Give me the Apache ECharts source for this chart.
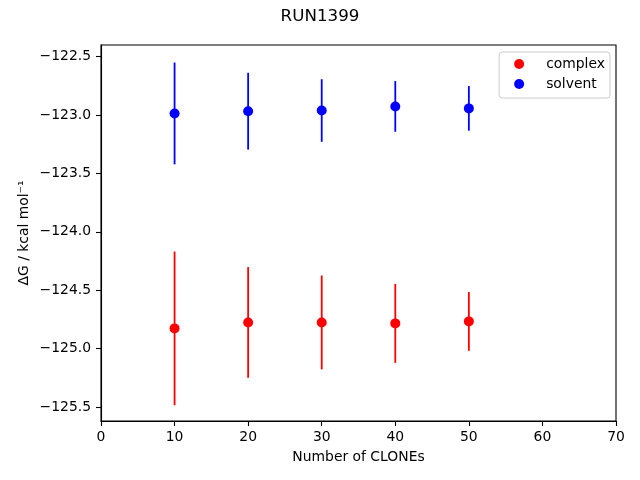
<!DOCTYPE html>
<html>
<head>
<meta charset="utf-8">
<script src="https://cdn.jsdelivr.net/npm/echarts@6/dist/echarts.min.js"></script>
<style>html,body{margin:0;padding:0;background:#fff}#c{width:640px;height:480px}</style>
</head>
<body>
<div id="c"></div>
<script>
const clones = [10, 20, 30, 40, 50];
const complexMean = [-124.827, -124.776, -124.776, -124.784, -124.767];
const complexErr = [0.658, 0.474, 0.402, 0.338, 0.252];
const solventMean = [-122.986, -122.967, -122.961, -122.926, -122.943];
const solventErr = [0.436, 0.329, 0.268, 0.217, 0.191];
const yTicks = [-125.5, -125.0, -124.5, -124.0, -123.5, -123.0, -122.5];
const xTicks = [0, 10, 20, 30, 40, 50, 60, 70];

const FONT = 'DejaVu Sans';
const fmt = v => (v < 0 ? '\u2212' : '') + Math.abs(v).toFixed(1);

function errSeries(name, means, errs, color) {
  return {
    name: name,
    type: 'custom',
    z: 2,
    silent: true,
    itemStyle: { color: color, opacity: 1 },
    data: clones.map((x, i) => [x, means[i], errs[i]]),
    renderItem: function (params, api) {
      const x = api.value(0), m = api.value(1), e = api.value(2);
      const p1 = api.coord([x, m - e]);
      const p2 = api.coord([x, m + e]);
      return {
        type: 'line',
        shape: { x1: p1[0], y1: p1[1], x2: p2[0], y2: p2[1] },
        style: { stroke: color, lineWidth: 1.8 }
      };
    }
  };
}

const chart = echarts.init(document.getElementById('c'), null, { renderer: 'canvas' });
chart.setOption({
  animation: false,
  backgroundColor: '#fff',
  title: {
    text: 'RUN1399',
    left: 'center',
    top: 8,
    padding: 0,
    textStyle: { fontFamily: FONT, fontSize: 16.7, fontWeight: 'normal', color: '#000' }
  },
  legend: {
    data: [
      { name: 'complex', itemStyle: { color: '#ff0000', opacity: 1 } },
      { name: 'solvent', itemStyle: { color: '#0000ff', opacity: 1 } }
    ],
    orient: 'vertical',
    right: 30,
    top: 52,
    padding: [4, 5, 6, 15],
    itemWidth: 10,
    itemHeight: 10,
    itemGap: 4,
    icon: 'circle',
    borderColor: '#cccccc',
    borderWidth: 1,
    borderRadius: 3,
    backgroundColor: 'rgba(255,255,255,0.8)',
    textStyle: { fontFamily: FONT, fontSize: 13.9, color: '#000', padding: [0, 0, 0, 17], lineHeight: 16 }
  },
  grid: {
    left: 101, right: 24, top: 45, bottom: 59,
    show: true, borderColor: '#000', borderWidth: 1.1, backgroundColor: 'transparent'
  },
  xAxis: {
    type: 'value',
    min: 0, max: 70, interval: 10,
    name: 'Number of CLONEs',
    nameLocation: 'middle',
    nameGap: 29,
    nameMoveOverlap: false,
    nameTextStyle: { fontFamily: FONT, fontSize: 13.9, color: '#000' },
    axisLine: { show: true, lineStyle: { color: '#000', width: 1.1 } },
    axisTick: { show: true, length: 5, lineStyle: { color: '#000', width: 1.1 } },
    axisLabel: { margin: 9, fontFamily: FONT, fontSize: 13.9, color: '#000' },
    splitLine: { show: false }
  },
  yAxis: {
    type: 'value',
    min: -125.62, max: -122.40,
    name: '\u0394G / kcal mol\u207B\u00B9',
    nameLocation: 'middle',
    nameGap: 70,
    nameMoveOverlap: false,
    nameRotate: 90,
    nameTextStyle: { fontFamily: FONT, fontSize: 13.9, color: '#000' },
    axisLine: { show: true, lineStyle: { color: '#000', width: 1.1 } },
    axisTick: { show: true, length: 5, customValues: yTicks, lineStyle: { color: '#000', width: 1.1 } },
    axisLabel: { margin: 10, customValues: yTicks, formatter: fmt, fontFamily: FONT, fontSize: 13.9, color: '#000' },
    splitLine: { show: false }
  },
  series: [
    errSeries('complex', complexMean, complexErr, '#ff0000'),
    errSeries('solvent', solventMean, solventErr, '#0000ff'),
    {
      name: 'complex', type: 'scatter', z: 3, symbol: 'circle', symbolSize: 10,
      itemStyle: { color: '#ff0000', opacity: 1 },
      data: clones.map((x, i) => [x, complexMean[i]])
    },
    {
      name: 'solvent', type: 'scatter', z: 3, symbol: 'circle', symbolSize: 10,
      itemStyle: { color: '#0000ff', opacity: 1 },
      data: clones.map((x, i) => [x, solventMean[i]])
    }
  ]
});
</script>
</body>
</html>
